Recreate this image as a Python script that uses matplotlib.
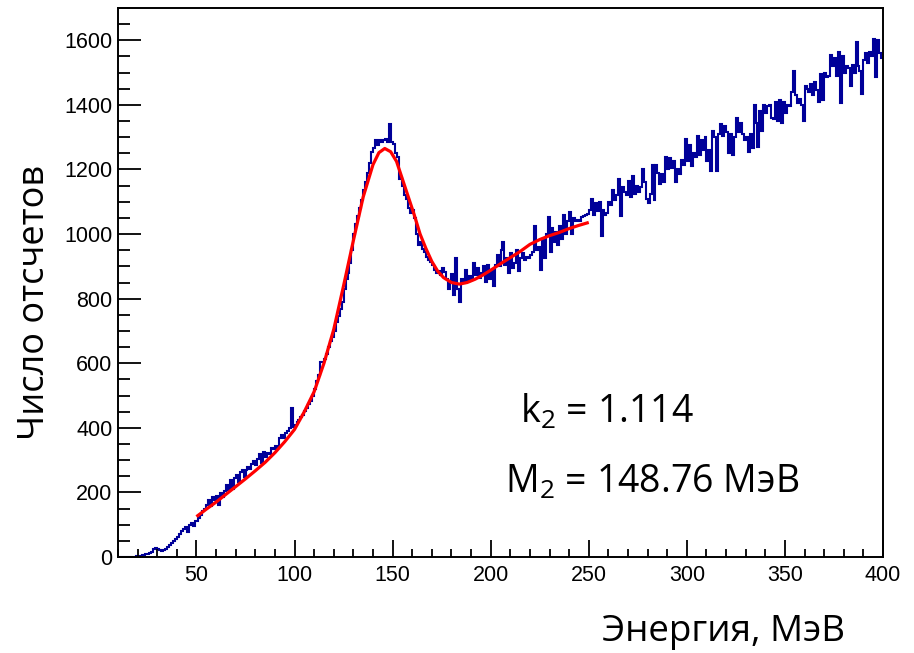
import matplotlib
matplotlib.use("Agg")
import matplotlib.pyplot as plt
import numpy as np

# Histogram: 1 MeV bins starting at 10 MeV
bin_start = 10
bin_width = 1
counts = [
    0, 0, 0, 0, 0, 0, 0, 0, 0, 2,
    3, 4, 5, 6, 8, 10, 11, 17, 24, 27,
    26, 23, 20, 21, 24, 31, 37, 42, 50, 56,
    63, 72, 80, 86, 92, 76, 98, 104, 96, 110,
    112, 120, 130, 142, 150, 162, 175, 158, 185, 176,
    190, 160, 198, 185, 205, 222, 208, 238, 212, 246,
    255, 232, 262, 268, 248, 270, 280, 272, 288, 296,
    285, 302, 318, 292, 326, 310, 322, 318, 338, 334,
    345, 336, 370, 378, 368, 384, 390, 398, 460, 404,
    410, 418, 425, 432, 440, 452, 462, 475, 482, 500,
    520, 545, 565, 605, 604, 612, 630, 650, 668, 680,
    700, 727, 745, 768, 790, 830, 860, 880, 910, 950,
    1000, 1030, 1055, 1080, 1105, 1135, 1160, 1190, 1220, 1255,
    1265, 1290, 1275, 1290, 1285, 1290, 1295, 1285, 1340, 1285,
    1280, 1250, 1240, 1170, 1175, 1150, 1120, 1110, 1080, 1065,
    1075, 1050, 1000, 965, 975, 955, 945, 930, 920, 912,
    905, 890, 880, 885, 872, 896, 882, 860, 830, 850,
    876, 812, 925, 830, 790, 860, 850, 888, 855, 870,
    860, 910, 872, 895, 865, 880, 900, 852, 905, 862,
    890, 840, 905, 935, 900, 950, 975, 905, 925, 880,
    940, 895, 910, 950, 885, 925, 940, 920, 930, 925,
    935, 945, 1025, 950, 960, 890, 985, 925, 1000, 1052,
    945, 1020, 975, 1005, 965, 1025, 985, 1060, 1000, 1040,
    1068, 1000, 1050, 1040, 1045, 1040, 1052, 1055, 1060, 1062,
    1075, 1110, 1060, 1095, 1070, 1100, 995, 1075, 1060, 1065,
    1100, 1090, 1135, 1105, 1120, 1170, 1055, 1145, 1130, 1120,
    1165, 1115, 1180, 1125, 1150, 1130, 1145, 1200, 1160, 1110,
    1095, 1125, 1215, 1105, 1215, 1190, 1155, 1185, 1160, 1240,
    1200, 1235, 1205, 1225, 1160, 1200, 1185, 1230, 1215, 1295,
    1225, 1275, 1210, 1250, 1240, 1305, 1245, 1290, 1260, 1300,
    1225, 1260, 1195, 1320, 1300, 1195, 1310, 1340, 1305, 1335,
    1315, 1250, 1310, 1245, 1300, 1360, 1315, 1345, 1310, 1290,
    1300, 1255, 1310, 1265, 1400, 1345, 1270, 1380, 1320, 1400,
    1375, 1395, 1400, 1360, 1355, 1410, 1350, 1415, 1345, 1410,
    1375, 1400, 1395, 1440, 1505, 1430, 1405, 1418, 1400, 1350,
    1460, 1450, 1440, 1465, 1430, 1470, 1445, 1410, 1495, 1415,
    1500, 1485, 1490, 1555, 1520, 1545, 1490, 1565, 1405, 1550,
    1500, 1520, 1515, 1460, 1525, 1500, 1595, 1520, 1505, 1435,
    1540, 1560, 1530, 1565, 1550, 1605, 1485, 1600, 1560, 1545,
]

# Fitted curve (peak + background), sampled values
fit_x = [50, 55, 60, 65, 70, 75, 80, 85, 90, 95, 100, 105, 110, 115, 120,
         125, 130, 135, 140, 143, 146, 149, 152, 155, 158, 161, 164, 167,
         170, 173, 176, 180, 184, 188, 192, 196, 200, 205, 210, 215, 220,
         225, 230, 235, 240, 245, 250]
fit_y = [125, 148, 170, 194, 218, 242, 267, 293, 323, 357, 395, 450, 512,
         600, 705, 840, 980, 1115, 1215, 1252, 1265, 1255, 1225, 1170, 1115,
         1060, 1000, 955, 915, 885, 865, 850, 845, 850, 860, 873, 888, 908,
         927, 946, 968, 983, 995, 1005, 1017, 1027, 1036]

x_ticks = [50, 100, 150, 200, 250, 300, 350, 400]
y_ticks = [0, 200, 400, 600, 800, 1000, 1200, 1400, 1600]

k_label = "k$_2$ = 1.114"
m_label = "M$_2$ = 148.76 МэВ"
x_label = "Энергия, МэВ"
y_label = "Число отсчетов"

text_font = ["Open Sans", "DejaVu Sans"]
plt.rcParams["mathtext.fontset"] = "custom"
plt.rcParams["mathtext.rm"] = "Open Sans"
plt.rcParams["mathtext.it"] = "Open Sans"
plt.rcParams["mathtext.bf"] = "Open Sans"

W, H = 914, 653
fig = plt.figure(figsize=(W / 100, H / 100), dpi=100)
ax = fig.add_axes([118 / W, 1 - 557 / H, (883 - 118) / W, (557 - 8) / H])

edges = bin_start + bin_width * np.arange(len(counts) + 1)
ax.stairs(counts, edges, baseline=None, color="#000099", lw=1.5)
ax.plot(fit_x, fit_y, color="#ff0000", lw=2.3, solid_joinstyle="round",
        solid_capstyle="butt")

ax.set_xlim(10, 400)
ax.set_ylim(0, max(counts) * 1.05)

ax.set_xticks(x_ticks)
ax.set_xticks(np.arange(10, 401, 10), minor=True)
ax.set_yticks(y_ticks)
ax.set_yticks(np.arange(0, 1701, 50), minor=True)

tick_font = {"family": "Liberation Sans", "size": 15.5}
ax.set_xticklabels([str(t) for t in x_ticks], fontdict=tick_font)
ax.set_yticklabels([str(t) for t in y_ticks], fontdict=tick_font)

ax.tick_params(axis="both", which="both", direction="in", top=False,
               right=False, width=1.3, color="black")
ax.tick_params(axis="y", which="major", length=16.5, pad=4)
ax.tick_params(axis="y", which="minor", length=8.5)
ax.tick_params(axis="x", which="major", length=12, pad=6)
ax.tick_params(axis="x", which="minor", length=6)

for s in ax.spines.values():
    s.set_linewidth(1.4)
    s.set_color("black")

fig.text(520 / W, 1 - 423 / H, k_label, fontsize=27, family=text_font,
         ha="left", va="baseline")
fig.text(505 / W, 1 - 493 / H, m_label, fontsize=27, family=text_font,
         ha="left", va="baseline")
fig.text(845 / W, 1 - 632 / H, x_label, fontsize=26.5, family=text_font,
         ha="right", va="center")
fig.text(35 / W, 1 - 302 / H, y_label, fontsize=26, family=text_font,
         ha="center", va="center", rotation=90)

fig.savefig("out.png", dpi=100)
